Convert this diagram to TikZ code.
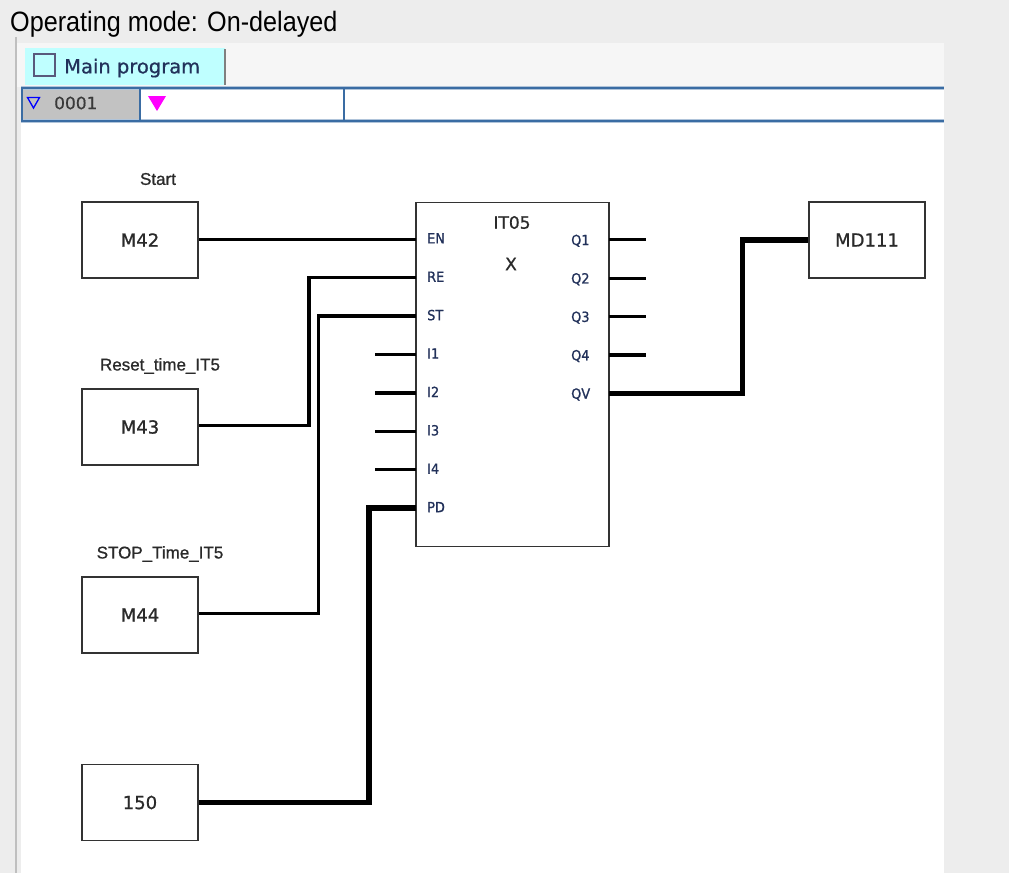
\documentclass[tikz,border=0pt]{standalone}
\usepackage{fontspec}
\setmainfont{Liberation Sans}
\newfontfamily\titlefont[FakeStretch=0.9]{Liberation Sans}
\newfontfamily\labfont[FakeBold=0.8]{Liberation Sans}
\newfontfamily\boxfont[FakeBold=0.9]{DejaVu Sans}
\newfontfamily\tabfont[FakeBold=0.6]{DejaVu Sans}
\newfontfamily\pinfont[FakeStretch=0.92,FakeBold=0.9]{DejaVu Sans}
\definecolor{bggray}{HTML}{EDEDED}
\definecolor{toolbar}{HTML}{F6F6F6}
\definecolor{tabcyan}{HTML}{BFFFFF}
\definecolor{barblue}{HTML}{3A6CA3}
\definecolor{cellgray}{HTML}{C2C2C2}
\definecolor{edge}{HTML}{333333}
\definecolor{txt}{HTML}{2A2A2A}
\definecolor{navy}{HTML}{22315A}
\definecolor{pinkmark}{HTML}{FF00FF}
\definecolor{numtxt}{HTML}{3A3A3A}
\tikzset{
  fbdbox/.style={draw=edge, line width=1.8pt, fill=white, minimum width=116pt, minimum height=76pt, inner sep=0pt, font=\boxfont\fontsize{18}{20}\selectfont, text=txt},
  varlabel/.style={font=\labfont\fontsize{17}{19}\selectfont, text=txt, inner sep=0pt},
  pinlabel/.style={font=\pinfont\fontsize{14}{16}\selectfont, text=navy, inner sep=0pt},
  wire/.style={line width=3.3pt, black},
  thickwire/.style={line width=5.5pt, black},
  stub/.style={line width=3.3pt, black}
}
\begin{document}
\begin{tikzpicture}[x=1pt,y=-1pt]
\useasboundingbox (0,0) rectangle (1009,873);
% window background
\fill[bggray] (0,0) rectangle (1009,873);
\node[anchor=base west, inner sep=0pt, font=\titlefont\fontsize{28}{30}\selectfont, text=black] (title) at (10,31.5) {Operating mode: On-delayed};
\fill[white] (17,43) rectangle (944,873);
\fill[toolbar] (17,43) rectangle (944,87);
\fill[black!25] (15,37) rectangle (17,873);
\fill[black!7] (17,87) rectangle (20.5,873);
% tab
\fill[tabcyan] (25,48) rectangle (225,85);
\draw[black!50, line width=1.8pt] (225,49) -- (225,85);
\draw[black!55!blue!30!gray, line width=1.8pt] (34,54) rectangle (55,76);
\node[anchor=west, inner sep=0pt, font=\tabfont\fontsize{19.5}{22}\selectfont, text=navy] (tabtext) at (64,68) {Main program};
% network bar
\fill[white] (21,88) rectangle (944,121);
\fill[cellgray] (21,88) rectangle (140,121);
\draw[barblue!40, line width=4pt] (21,88) -- (944,88) (21,121) -- (944,121);
\draw[barblue, line width=2.2pt] (21,88) -- (944,88) (21,121) -- (944,121);
\draw[barblue, line width=2pt] (22,88) -- (22,121) (140,88) -- (140,121) (343.5,88) -- (343.5,121);
\draw[blue, line width=1.3pt, line join=miter] (27.5,97.5) -- (39.5,97.5) -- (33.5,108) -- cycle;
\node[anchor=west, inner sep=0pt, font=\tabfont\fontsize{17}{19}\selectfont, text=numtxt] (netnum) at (54,103) {0001};
\fill[pinkmark] (148,96) -- (166,96) -- (157,111) -- cycle;
% function block
\node[draw=edge, line width=1.8pt, fill=white, minimum width=193pt, minimum height=344pt, inner sep=0pt] (blk) at (512.5,374.5) {};
\node[font=\boxfont\fontsize{17}{19}\selectfont, text=txt, inner sep=0pt] (blkname) at (512,222.5) {IT05};
\node[font=\boxfont\fontsize{17}{19}\selectfont, text=txt, inner sep=0pt] (blkx) at (511,264) {X};
% input pins
\foreach \nm/\lb/\yy in {en/EN/239.3, re/RE/277.7, st/ST/316.1, ia/I1/354.5, ib/I2/392.9, ic/I3/431.3, id/I4/469.7, pd/PD/508.1}{
  \coordinate (\nm) at (416,\yy);
  \node[pinlabel, anchor=west] (\nm lab) at (427,\yy-1) {\lb};
}
\foreach \nm/\lb/\yy in {qa/Q1/239.8, qb/Q2/278.2, qc/Q3/316.6, qd/Q4/355, qv/QV/393.4}{
  \coordinate (\nm) at (609,\yy);
  \node[pinlabel, anchor=west] (\nm lab) at (571,\yy+1) {\lb};
}
\foreach \nm in {ia,ib,ic,id}{ \draw[stub] (\nm) -- ++(-41,0); }
\foreach \nm in {qa,qb,qc,qd}{ \draw[stub] (\nm) -- ++(37,0); }
% variable boxes
\node[fbdbox] (m42) at (140,240) {M42};
\node[fbdbox] (m43) at (140,427) {M43};
\node[fbdbox] (m44) at (140,615) {M44};
\node[fbdbox] (c150) at (140,802.5) {150};
\node[fbdbox] (md111) at (867,240) {MD111};
\node[varlabel] (lstart) at (158,179) {Start};
\node[varlabel] (lreset) at (160,366) {Reset\_time\_IT5};
\node[varlabel] (lstop) at (160,554) {STOP\_Time\_IT5};
% wires
\coordinate (reb) at (309,425.3);
\coordinate (stb) at (318.5,613.3);
\coordinate (pdb) at (369,802.7);
\coordinate (qvb) at (742.7,393.4);
\draw[wire] (m42.east |- en) -- (en);
\draw[wire, line join=miter] (m43.east |- reb) -- (reb) |- (re);
\draw[wire, line join=miter] (m44.east |- stb) -- (stb) |- (st);
\draw[thickwire, line join=miter] (c150.east |- pdb) -- (pdb) |- (pd);
\draw[thickwire, line join=miter] (qv) -- (qvb) |- (md111.west);
\end{tikzpicture}
\end{document}
